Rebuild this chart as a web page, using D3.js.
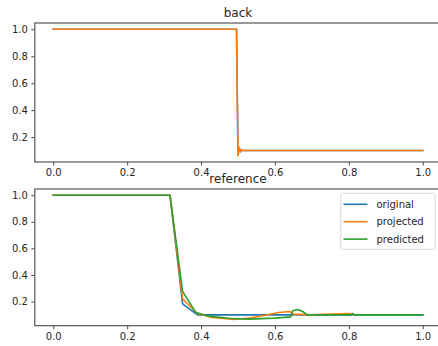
<!DOCTYPE html>
<html>
<head>
<meta charset="utf-8">
<script src="https://cdn.jsdelivr.net/npm/d3@7"></script>
<style>
  html, body { margin: 0; padding: 0; background: #fff; }
  svg text { font-family: "DejaVu Sans", sans-serif; fill: #262626; }
</style>
</head>
<body>
<svg id="fig" width="438" height="346"></svg>
<script>
// ---- data ----
// "back" panel: solution profile with a sharp drop near x = 0.5
const backX      = [0, 0.496, 0.500, 0.5035, 0.5065, 0.509, 0.514, 0.52, 1.0];
const backOrig   = [1, 1, 0.065, 0.12, 0.092, 0.104, 0.1, 0.1, 0.1];
const backProj   = [1, 1, 0.062, 0.125, 0.09, 0.105, 0.1, 0.1, 0.1];

// "reference" panel
const origX = [0, 0.316, 0.35, 0.39, 0.40, 1.0];
const origY = [1, 1, 0.183, 0.10, 0.10, 0.10];

const projX = [0, 0.316, 0.35, 0.39, 0.43, 0.49, 0.53, 0.57, 0.61, 0.64, 0.65, 0.70, 0.75, 0.80, 0.815];
const projY = [1, 1, 0.22, 0.11, 0.08, 0.065, 0.075, 0.095, 0.118, 0.125, 0.105, 0.10, 0.105, 0.11, 0.10];

const predX = [0, 0.316, 0.35, 0.385, 0.42, 0.48, 0.53, 0.60, 0.643, 0.648, 0.662, 0.675, 0.688, 0.75, 0.805, 0.81, 0.815, 1.0];
const predY = [1, 1, 0.277, 0.12, 0.09, 0.072, 0.068, 0.075, 0.085, 0.13, 0.14, 0.125, 0.10, 0.10, 0.10, 0.11, 0.10, 0.10];

const xTicks = [0.0, 0.2, 0.4, 0.6, 0.8, 1.0];
const yTicks = [0.2, 0.4, 0.6, 0.8, 1.0];
const seriesNames = ["original", "projected", "predicted"];
const colors = ["#1f77b4", "#ff7f0e", "#2ca02c"];

// ---- layout ----
const svg = d3.select("#fig");
const left = 34.8, right = 441.2;
const panels = [
  { title: "back", top: 23, bottom: 162,
    series: [[backX, backOrig, 0], [backX, backProj, 1]] },
  { title: "reference", top: 189, bottom: 325.7,
    series: [[origX, origY, 0], [projX, projY, 1], [predX, predY, 2]], legend: true }
];

function padded(lo, hi) {
  const m = (hi - lo) * 0.05;
  return [lo - m, hi + m];
}

panels.forEach(p => {
  const allY = p.series.flatMap(s => s[1]);
  const x = d3.scaleLinear().domain(padded(0, 1)).range([left, right]);
  const y = d3.scaleLinear().domain(padded(d3.min(allY), d3.max(allY))).range([p.bottom, p.top]);

  const g = svg.append("g");
  const clipId = "clip-" + p.title;
  svg.append("clipPath").attr("id", clipId)
    .append("rect").attr("x", left).attr("y", p.top)
    .attr("width", right - left).attr("height", p.bottom - p.top);

  const line = d3.line().x(d => x(d[0])).y(d => y(d[1]));
  p.series.forEach(([xs, ys, ci]) => {
    g.append("path")
      .attr("clip-path", `url(#${clipId})`)
      .attr("d", line(xs.map((v, i) => [v, ys[i]])))
      .attr("fill", "none")
      .attr("stroke", colors[ci])
      .attr("stroke-width", 1.6)
      .attr("stroke-linejoin", "round")
      .attr("stroke-linecap", "square");
  });

  // axes
  const xAxis = d3.axisBottom(x).tickValues(xTicks).tickFormat(d3.format(".1f"))
    .tickSize(3.5).tickPadding(3.5);
  const gx = svg.append("g").attr("transform", `translate(0,${p.bottom})`).call(xAxis);
  const yAxis = d3.axisLeft(y).tickValues(yTicks).tickFormat(d3.format(".1f"))
    .tickSize(3.5).tickPadding(3.5);
  const gy = svg.append("g").attr("transform", `translate(${left},0)`).call(yAxis);
  [gx, gy].forEach(a => {
    a.select(".domain").remove();
    a.selectAll(".tick line").attr("stroke", "#333").attr("stroke-width", 0.9);
    a.selectAll(".tick text").attr("font-size", 10).attr("fill", "#262626")
      .style("font-family", "DejaVu Sans, sans-serif");
  });

  // frame
  svg.append("rect").attr("x", left).attr("y", p.top)
    .attr("width", right - left).attr("height", p.bottom - p.top)
    .attr("fill", "none").attr("stroke", "#555").attr("stroke-width", 1.2);

  // title
  svg.append("text").attr("x", (left + right) / 2).attr("y", p.top - 6)
    .attr("text-anchor", "middle").attr("font-size", 12).text(p.title);

  if (p.legend) {
    const lg = svg.append("g");
    lg.append("rect").attr("x", 340.7).attr("y", 193.3).attr("width", 94.5).attr("height", 56)
      .attr("rx", 2).attr("fill", "#fff").attr("fill-opacity", 0.8)
      .attr("stroke", "#cccccc").attr("stroke-width", 0.8);
    seriesNames.forEach((n, i) => {
      const yy = 204.3 + i * 17.4;
      lg.append("line").attr("x1", 343.5).attr("x2", 367.5).attr("y1", yy).attr("y2", yy)
        .attr("stroke", colors[i]).attr("stroke-width", 1.6);
      lg.append("text").attr("x", 376.5).attr("y", yy + 3.6).attr("font-size", 10).text(n);
    });
  }
});
</script>
</body>
</html>
